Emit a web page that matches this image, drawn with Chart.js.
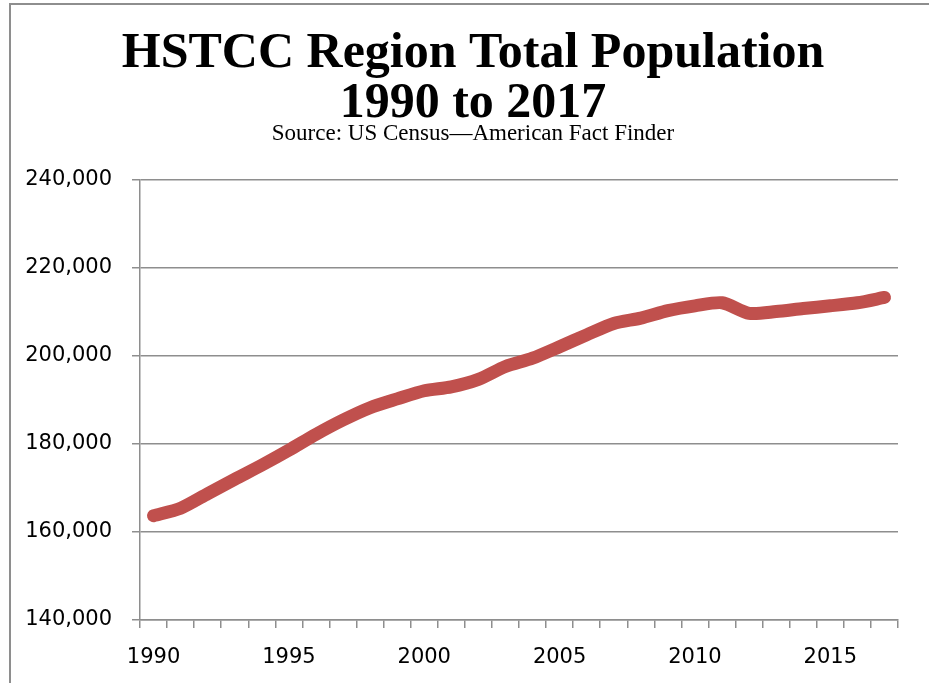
<!DOCTYPE html>
<html>
<head>
<meta charset="utf-8">
<title>HSTCC Region Total Population</title>
<script src="https://cdn.jsdelivr.net/npm/chart.js@4.4.1/dist/chart.umd.min.js"></script>
<style>
  html, body { margin: 0; padding: 0; background: #fff; }
  #wrap { width: 929px; height: 683px; }
</style>
</head>
<body>
<div id="wrap"><canvas id="popChart" width="929" height="683"></canvas></div>
<script>
// Population by year
const years = ['1990', '1991', '1992', '1993', '1994', '1995', '1996', '1997', '1998', '1999',
               '2000', '2001', '2002', '2003', '2004', '2005', '2006', '2007', '2008', '2009',
               '2010', '2011', '2012', '2013', '2014', '2015', '2016', '2017'];
const population = [163700, 165400, 168700, 172000, 175200, 178600, 182200, 185450, 188250, 190250,
                    192100, 193000, 194700, 197600, 199500, 202100, 204800, 207400, 208600, 210300,
                    211400, 212100, 209700, 210100, 210800, 211400, 212100, 213300];
const yTicks = { min: 140000, max: 240000, step: 20000 };
const titleLines = ['HSTCC Region Total Population', '1990 to 2017'];
const sourceLine = 'Source: US Census\u2014American Fact Finder';

const GRID = '#8e8e8e';

// Frame + heading text
const headingPlugin = {
  id: 'heading',
  beforeDraw(chart) {
    const ctx = chart.ctx;
    ctx.save();
    ctx.fillStyle = '#fff';
    ctx.fillRect(0, 0, chart.width, chart.height);
    ctx.strokeStyle = GRID;
    ctx.lineWidth = 2;
    ctx.beginPath();
    ctx.moveTo(929, 4);
    ctx.lineTo(10, 4);
    ctx.lineTo(10, 683);
    ctx.stroke();

    const cx = 473;
    ctx.fillStyle = '#000';
    ctx.textAlign = 'center';
    ctx.textBaseline = 'alphabetic';
    ctx.font = 'bold 50px "Liberation Serif", serif';
    ctx.fillText(titleLines[0], cx, 67);
    ctx.fillText(titleLines[1], cx, 117);
    ctx.font = '23px "Liberation Serif", serif';
    ctx.fillText(sourceLine, cx, 140);
    ctx.restore();
  }
};

const ctx = document.getElementById('popChart').getContext('2d');
new Chart(ctx, {
  type: 'line',
  data: {
    labels: years,
    datasets: [{
      label: 'Total Population',
      data: population,
      borderColor: '#c0504d',
      backgroundColor: '#c0504d',
      borderWidth: 13,
      borderCapStyle: 'round',
      borderJoinStyle: 'round',
      pointRadius: 0,
      tension: 0.25,
      fill: false
    }]
  },
  options: {
    responsive: false,
    animation: false,
    layout: { padding: { left: 0, right: 31, top: 180, bottom: 0 } },
    plugins: {
      legend: { display: false },
      tooltip: { enabled: false }
    },
    scales: {
      x: {
        offset: true,
        afterFit: s => { s.height = 63; },
        grid: { offset: true, drawOnChartArea: false, drawTicks: true, tickLength: 8, color: GRID, lineWidth: 1.5 },
        border: { color: GRID, width: 1.5 },
        ticks: {
          autoSkip: false,
          maxRotation: 0,
          padding: 17,
          color: '#000',
          font: { family: 'DejaVu Sans', size: 21 },
          callback(val) {
            const y = this.getLabelForValue(val);
            return Number(y) % 5 === 0 ? y : '';
          }
        }
      },
      y: {
        min: yTicks.min,
        max: yTicks.max,
        afterFit: s => { s.width = 140; },
        grid: { color: GRID, lineWidth: 1.5, tickLength: 8 },
        border: { color: GRID, width: 1.5 },
        ticks: {
          stepSize: yTicks.step,
          padding: 20,
          color: '#000',
          font: { family: 'DejaVu Sans', size: 21 },
          callback: v => v.toLocaleString('en-US')
        }
      }
    }
  },
  plugins: [headingPlugin]
});
</script>
</body>
</html>
